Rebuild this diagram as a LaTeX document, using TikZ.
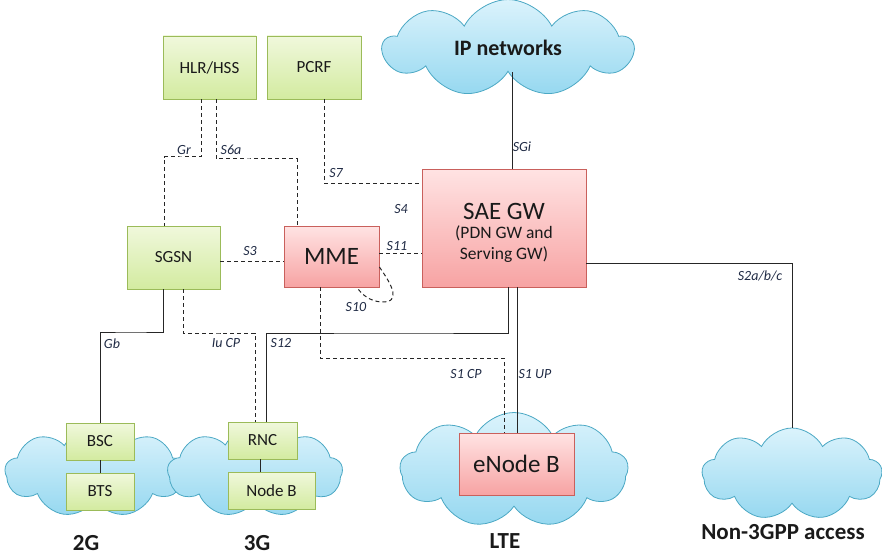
\documentclass[tikz,border=0pt]{standalone}
\usepackage{fontspec}
\setmainfont{Carlito}
\usetikzlibrary{shapes.symbols}
\definecolor{gtop}{HTML}{F0F8DC}
\definecolor{gbot}{HTML}{D3EBA0}
\definecolor{gborder}{HTML}{9BBB59}
\definecolor{rtop}{HTML}{FFE3E3}
\definecolor{rbot}{HTML}{F7A3A3}
\definecolor{rborder}{HTML}{C9605C}
\definecolor{ctop}{HTML}{DBF3FC}
\definecolor{cbot}{HTML}{96D8F0}
\definecolor{cborder}{HTML}{4BA8C4}
\definecolor{linec}{HTML}{262626}
\definecolor{txt}{HTML}{1A1A1A}
\definecolor{lblc}{HTML}{1F2A44}
\begin{document}
\begin{tikzpicture}[x=1pt,y=-1pt,
  line/.style={draw=linec, line width=1pt},
  dline/.style={line, dash pattern=on 4pt off 3pt},
  gbox/.style={draw=gborder, line width=0.8pt, top color=gtop, bottom color=gbot, inner sep=0pt, font=\fontsize{17}{19}\selectfont, text=txt},
  rbox/.style={draw=rborder, line width=0.8pt, top color=rtop, bottom color=rbot, inner sep=0pt, text=txt, align=center},
  cloudn/.style={cloud, cloud puffs=9, cloud puff arc=125, aspect=2.2, draw=cborder, line width=0.8pt, top color=ctop, bottom color=cbot, inner sep=0pt},
  lbl/.style={font=\fontsize{14}{16}\selectfont\itshape, text=lblc, inner sep=0pt},
  big/.style={font=\fontsize{23}{25}\selectfont\bfseries, text=txt, inner sep=0pt}
]
\useasboundingbox (0,0) rectangle (882,556);
% clouds
\node[cloudn, minimum width=250pt, minimum height=95pt, font=\fontsize{22}{24}\selectfont\bfseries, text=txt] (ipnet) at (508,48) {IP networks};
\node[cloudn, minimum width=180pt, minimum height=90pt] (c2g) at (95,472) {};
\node[cloudn, minimum width=175pt, minimum height=90pt] (c3g) at (255,472) {};
\node[cloudn, minimum width=228pt, minimum height=115pt] (clte) at (514,470) {};
\node[cloudn, minimum width=180pt, minimum height=92pt] (cn3) at (792,474) {};
% boxes
\node[gbox, minimum width=93pt, minimum height=63pt] (hlr) at (209.5,67.5) {HLR/HSS};
\node[gbox, minimum width=94pt, minimum height=63pt] (pcrf) at (314,67.5) {PCRF};
\node[gbox, minimum width=93pt, minimum height=63pt] (sgsn) at (173.5,257.5) {SGSN};
\node[rbox, minimum width=95pt, minimum height=61pt, font=\fontsize{25}{27}\selectfont] (mme) at (331.5,256.5) {MME};
\node[rbox, minimum width=164pt, minimum height=118pt] (sae) at (504,228) {};
\node[font=\fontsize{25}{27}\selectfont, text=txt, inner sep=0pt] (saet) at (504,211) {SAE GW};
\node[font=\fontsize{17.5}{19}\selectfont, text=txt, inner sep=0pt] (saes1) at (504,233) {(PDN GW and};
\node[font=\fontsize{17.5}{19}\selectfont, text=txt, inner sep=0pt] (saes2) at (504,255) {Serving GW)};
\node[gbox, minimum width=68pt, minimum height=37pt] (bsc) at (100,441.5) {BSC};
\node[gbox, minimum width=68pt, minimum height=37pt] (bts) at (100,491.5) {BTS};
\node[gbox, minimum width=69pt, minimum height=37pt] (rnc) at (262.5,440.5) {RNC};
\node[gbox, minimum width=87pt, minimum height=37pt] (nodeb) at (271.5,490.5) {Node B};
\node[rbox, minimum width=115pt, minimum height=62pt, font=\fontsize{25}{27}\selectfont] (enb) at (516.5,464) {eNode B};
% bottom labels
\node[big] (l2g) at (86,543) {2G};
\node[big] (l3g) at (257,543) {3G};
\node[big] (llte) at (505,541) {LTE};
\node[big] (ln3) at (783,532) {Non-3GPP access};
% helper coordinates
\coordinate (grc) at (180,157);
\coordinate (s6c) at (250,159);
\coordinate (gbc) at (130,332);
\coordinate (iuc) at (220,333);
\coordinate (s12c) at (400,333);
\coordinate (s1c) at (400,358);
% connectors
\draw[line] ([xshift=8pt]sae.north) -- ([xshift=8pt]sae.north |- ipnet.south);
\draw[dline] ([xshift=-8.5pt]hlr.south) |- (grc) -| ([xshift=-9.5pt]sgsn.north);
\draw[dline] ([xshift=6.5pt]hlr.south) |- (s6c) -| ([xshift=-34.5pt]mme.north);
\draw[dline] ([xshift=10pt]pcrf.south) |- ([yshift=45pt]sae.west);
\draw[dline] ([yshift=-3.5pt]sgsn.east) -- ([yshift=-3.5pt]sgsn.east -| mme.west);
\draw[dline] ([yshift=3.5pt]mme.east) -- ([yshift=3.5pt]mme.east -| sae.west);
\draw[dline] ([yshift=-10.5pt]mme.east) .. controls (392,285) and (402,303) .. (381,302)
   .. controls (370,301) and (362,295) .. ([xshift=25.5pt]mme.south);
\draw[line] ([xshift=-10.5pt]sgsn.south) |- (gbc) -| (bsc.north);
\draw[dline] ([xshift=9.5pt]sgsn.south) |- (iuc) -| ([xshift=-7.5pt]rnc.north);
\draw[line] ([xshift=4pt]rnc.north) |- (s12c) -| ([xshift=4pt]sae.south);
\draw[dline] ([xshift=-11.5pt]mme.south) |- (s1c) -| ([xshift=-12.5pt]enb.north);
\draw[line] ([xshift=13pt]sae.south) -- ([xshift=13pt]sae.south |- enb.north);
\draw[line] ([yshift=-35pt]sae.east) -| (cn3.north);
\draw[line] (bsc) -- (bts);
\draw[line] ([xshift=-11.5pt]nodeb.north) -- ([xshift=-11.5pt]nodeb.north |- rnc.south);
% interface labels
\node[lbl] (lsgi) at (522,147) {SGi};
\node[lbl] (lgr) at (184,150) {Gr};
\node[lbl] (ls6a) at (231,150) {S6a};
\node[lbl] (ls7) at (336,173) {S7};
\node[lbl] (ls4) at (401,209) {S4};
\node[lbl] (ls3) at (250,251) {S3};
\node[lbl] (ls11) at (397,246) {S11};
\node[lbl] (ls10) at (356,307) {S10};
\node[lbl] (lgb) at (112,344) {Gb};
\node[lbl] (liu) at (226,343) {Iu CP};
\node[lbl] (ls12) at (281,343) {S12};
\node[lbl] (ls1cp) at (466,374) {S1 CP};
\node[lbl] (ls1up) at (535,374) {S1 UP};
\node[lbl] (ls2) at (760,276) {S2a/b/c};
\end{tikzpicture}
\end{document}
